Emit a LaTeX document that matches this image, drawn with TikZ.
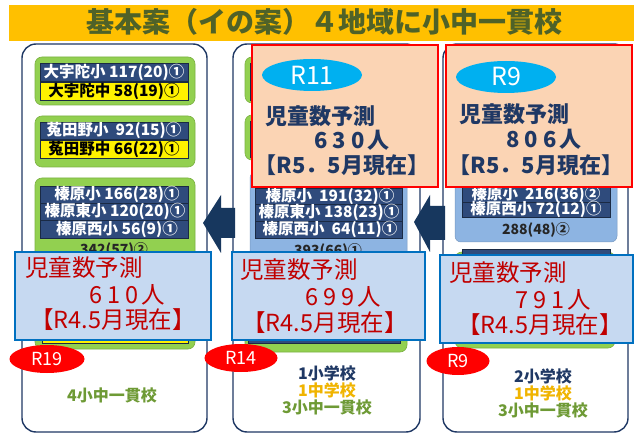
\documentclass[tikz,border=0pt]{standalone}
\usepackage{fontspec}
\usetikzlibrary{shapes.geometric}
\newfontfamily\jp{Noto Sans CJK JP}
\newcommand\fs[1]{\fontsize{#1}{#1}\selectfont}
\definecolor{navy}{HTML}{1F3864}
\definecolor{titlebg}{HTML}{FFC000}
\definecolor{titletx}{HTML}{4F6228}
\definecolor{grn}{HTML}{92D050}
\definecolor{barblue}{HTML}{2F4B7C}
\definecolor{bardark}{HTML}{1A2A44}
\definecolor{ltblue}{HTML}{8DB4E2}
\definecolor{predfill}{HTML}{C6D9F1}
\definecolor{predline}{HTML}{0070C0}
\definecolor{predred}{HTML}{C00000}
\definecolor{peach}{HTML}{FBD4B4}
\definecolor{cyanel}{HTML}{00B0F0}
\definecolor{arrowc}{HTML}{17375E}
\definecolor{gtext}{HTML}{6E9A35}
\definecolor{gold}{HTML}{F0B400}
\tikzset{
 col/.style={draw=navy, line width=1.4pt, rounded corners=14pt, fill=white},
 gbox/.style={fill=grn, draw=grn!85!black, line width=0.6pt, rounded corners=7pt},
 bbar/.style={fill=barblue, draw=bardark, line width=0.6pt},
 ybar/.style={fill=yellow, draw=bardark, line width=0.6pt},
 lbbox/.style={fill=ltblue, draw=ltblue!85!black, line width=0.5pt, rounded corners=6pt},
 wtxt/.style={inner sep=0pt, text=white, font=\jp\bfseries\fs{15.5}},
 ktxt/.style={inner sep=0pt, text=black, font=\jp\bfseries\fs{15.5}},
 sumtxt/.style={inner sep=0pt, text=black!85, font=\jp\bfseries\fs{14}},
 rbox/.style={fill=peach, draw=red, line width=2.6pt},
 ntxt/.style={inner sep=0pt, text=navy, font=\jp\bfseries\fs{22}},
 pbox/.style={fill=predfill, draw=predline, line width=2.2pt},
 ptxt/.style={inner sep=0pt, text=predred, font=\jp\fs{23.5}},
 rell/.style={ellipse, fill=red, text=white, font=\jp\fs{18}, inner sep=0pt, minimum width=72pt, minimum height=28pt},
 cell/.style={ellipse, fill=cyanel, text=white, font=\jp\fs{25}, inner sep=0pt, minimum width=100pt, minimum height=32pt},
 btxt/.style={inner sep=0pt, font=\jp\bfseries\fs{16}},
 bigarrow/.style={fill=arrowc}
}
\begin{document}
\begin{tikzpicture}[x=1pt,y=-1pt]
\useasboundingbox (0,0) rectangle (634,438);
\fill[white] (0,0) rectangle (634,438);
% title
\fill[titlebg] (9,5) rectangle (634,41);
\node[inner sep=0pt, text=titletx, font=\jp\bfseries\fs{28}] (title) at (324,22) {基本案（イの案）４地域に小中一貫校};
% columns
\draw[col] (22,44) rectangle (207,432);
\draw[col] (233,44) rectangle (420,432);
\draw[col] (443,44) rectangle (628,432);
% ---- column 1
\draw[gbox] (35,57) rectangle (195,105);
\draw[bbar] (40,63) rectangle (188,81);
\draw[ybar] (40,82) rectangle (188,100);
\node[wtxt] (a1) at (114,72) {大宇陀小 117(20)①};
\node[ktxt] (a2) at (114,91) {大宇陀中 58(19)①};
\draw[gbox] (35,116) rectangle (195,167);
\draw[bbar] (40,122) rectangle (188,139);
\draw[ybar] (40,140) rectangle (188,158);
\node[wtxt] (b1) at (114,130.5) {菟田野小~~92(15)①};
\node[ktxt] (b2) at (114,149) {菟田野中 66(22)①};
\draw[gbox] (35,178) rectangle (195,349);
\draw[bbar] (40,186) rectangle (188,203);
\draw[bbar] (40,203) rectangle (188,220);
\draw[bbar] (40,220) rectangle (188,238);
\node[wtxt] (c1) at (117,194.5) {榛原小 166(28)①};
\node[wtxt] (c2) at (115,211.5) {榛原東小 120(20)①};
\node[wtxt] (c3) at (117,229) {榛原西小 56(9)①};
\node[sumtxt] (c4) at (114,250) {342(57)②};
\draw[ybar] (42,322) rectangle (188,343);
% ---- column 2
\draw[gbox] (245,57) rectangle (410,103);
\draw[bbar] (250,63) rectangle (405,81);
\draw[bbar] (250,82) rectangle (405,100);
\draw[gbox] (245,115) rectangle (410,160);
\draw[bbar] (250,121) rectangle (405,139);
\draw[bbar] (250,140) rectangle (405,157);
\draw[lbbox] (250,172) rectangle (407,270);
\draw[bbar] (255,188) rectangle (402,204);
\draw[bbar] (255,204) rectangle (402,221);
\draw[bbar] (255,221) rectangle (402,238);
\node[wtxt] (d1) at (330,196) {榛原小~~191(32)①};
\node[wtxt] (d2) at (329,212.5) {榛原東小 138(23)①};
\node[wtxt] (d3) at (330,229.5) {榛原西小~~64(11)①};
\node[sumtxt] (d4) at (328,251) {393(66)①};
\draw[gbox] (245,262) rectangle (407,352);
\draw[bbar] (248,326) rectangle (400,343);
% ---- column 3
\draw[lbbox] (455,172) rectangle (617,242);
\draw[bbar] (462,187) rectangle (610,202);
\draw[bbar] (462,202) rectangle (610,217);
\node[wtxt] (e1) at (536,194.5) {榛原小~~216(36)②};
\node[wtxt] (e2) at (536,209.5) {榛原西小 72(12)①};
\node[sumtxt] (e3) at (536,230) {288(48)②};
\draw[gbox] (455,252) rectangle (615,348);
\draw[bbar] (462,249) rectangle (610,266);
% ---- red forecast boxes
\draw[rbox] (252,45) rectangle (438,187);
\node[cell] (r11) at (312,75) {R11};
\node[ntxt] (f1) at (320,116) {児童数予測};
\node[ntxt] (f2) at (352,140) {6\kern5pt3\kern5pt0\kern3pt人};
\node[ntxt] (f3) at (342,165) {【R5．5月現在】};
\draw[rbox] (446,45) rectangle (632,187);
\node[cell] (r9a) at (506,77) {R9};
\node[ntxt] (g1) at (514,114) {児童数予測};
\node[ntxt] (g2) at (544,139) {8\kern5pt0\kern5pt6\kern3pt人};
\node[ntxt] (g3) at (536,165) {【R5．5月現在】};
% ---- arrows
\fill[bigarrow] (203,223) -- (221,195) -- (221,208) -- (235,208) -- (235,238) -- (221,238) -- (221,253) -- cycle;
\fill[bigarrow] (414,222) -- (430,195) -- (430,206) -- (445,206) -- (445,240) -- (430,240) -- (430,252) -- cycle;
% ---- blue forecast boxes
\draw[pbox] (15,252) rectangle (211,340);
\node[ptxt] (p1) at (84,268) {児童数予測};
\node[ptxt] (p2) at (127,295) {6\kern5pt1\kern5pt0\kern3pt人};
\node[ptxt] (p3) at (113,320) {【R4.5月現在】};
\draw[pbox] (232,252) rectangle (425,340);
\node[ptxt] (q1) at (299,270) {児童数予測};
\node[ptxt] (q2) at (343,297) {6\kern5pt9\kern5pt9\kern3pt人};
\node[ptxt] (q3) at (325,323) {【R4.5月現在】};
\draw[pbox] (440,255) rectangle (633,343);
\node[ptxt] (s1) at (508,273) {児童数予測};
\node[ptxt] (s2) at (553,300) {7\kern5pt9\kern5pt1\kern3pt人};
\node[ptxt] (s3) at (540,325) {【R4.5月現在】};
% ---- red ellipses
\node[rell, minimum width=75pt] (y19) at (47,359) {R19};
\node[rell, minimum width=73pt] (y14) at (241,358) {R14};
\node[rell, minimum width=63pt] (y9) at (458,361) {R9};
% ---- bottom texts
\node[btxt, text=gtext] (h1) at (112,395) {4小中一貫校};
\node[btxt, text=navy] (h2) at (327,373) {1小学校};
\node[btxt, text=gold] (h3) at (327,390) {1中学校};
\node[btxt, text=gtext] (h4) at (327,407) {3小中一貫校};
\node[btxt, text=navy] (k2) at (543,376) {2小学校};
\node[btxt, text=gold] (k3) at (543,393) {1中学校};
\node[btxt, text=gtext] (k4) at (543,410) {3小中一貫校};
\end{tikzpicture}
\end{document}
